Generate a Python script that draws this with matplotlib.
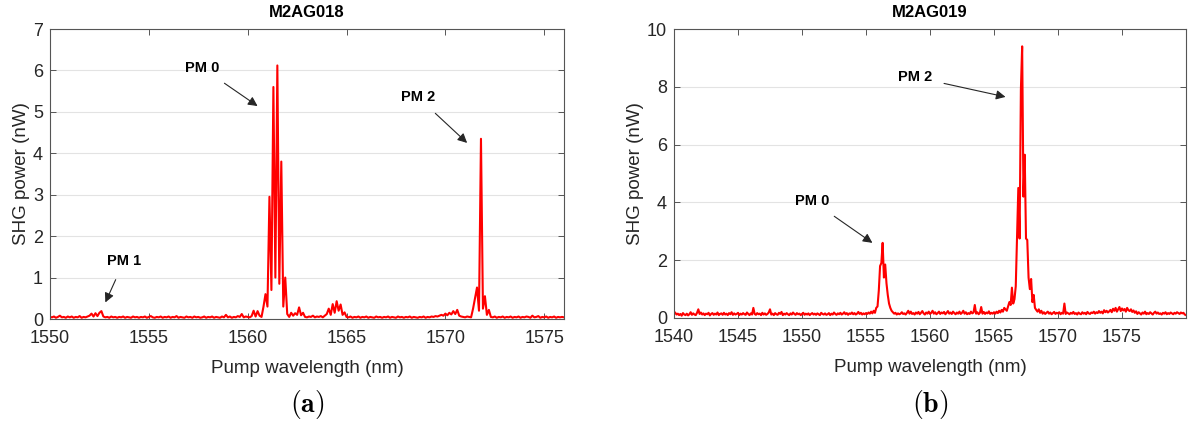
import numpy as np
import matplotlib
matplotlib.use("Agg")
import matplotlib.pyplot as plt

plt.rcParams['font.family'] = ['Liberation Sans', 'DejaVu Sans']
plt.rcParams['mathtext.fontset'] = 'cm'

# ---- M2AG018: SHG power (nW), pump wavelength 1550.0 ... 1576.0 nm, 0.1 nm step
wl_a_start, wl_a_stop = 1550.0, 1576.0
shg_a = [
    0.05, 0.04, 0.06, 0.03, 0.05, 0.08, 0.04, 0.05, 0.03, 0.06,   # 1550
    0.04, 0.06, 0.03, 0.05, 0.04, 0.07, 0.03, 0.05, 0.04, 0.06,   # 1551
    0.08, 0.13, 0.06, 0.14, 0.07, 0.15, 0.19, 0.06, 0.04, 0.05,   # 1552
    0.03, 0.06, 0.04, 0.05, 0.03, 0.05, 0.04, 0.06, 0.03, 0.05,   # 1553
    0.04, 0.03, 0.06, 0.04, 0.05, 0.03, 0.05, 0.04, 0.06, 0.03,   # 1554
    0.05, 0.07, 0.04, 0.03, 0.05, 0.04, 0.06, 0.03, 0.05, 0.04,   # 1555
    0.06, 0.03, 0.05, 0.04, 0.07, 0.03, 0.05, 0.04, 0.03, 0.06,   # 1556
    0.04, 0.05, 0.03, 0.06, 0.04, 0.05, 0.03, 0.04, 0.06, 0.03,   # 1557
    0.05, 0.04, 0.06, 0.03, 0.05, 0.04, 0.03, 0.06, 0.04, 0.10,   # 1558
    0.04, 0.06, 0.03, 0.05, 0.04, 0.07, 0.05, 0.12, 0.04, 0.06,   # 1559
    0.05, 0.04, 0.07, 0.20, 0.06, 0.19, 0.08, 0.05, 0.30, 0.60,   # 1560
    0.30, 2.95, 0.70, 5.60, 1.00, 6.12, 0.85, 3.80, 0.30, 1.00,   # 1561
    0.12, 0.05, 0.15, 0.08, 0.14, 0.10, 0.28, 0.09, 0.15, 0.05,   # 1562
    0.04, 0.06, 0.05, 0.08, 0.04, 0.06, 0.05, 0.07, 0.04, 0.08,   # 1563
    0.12, 0.25, 0.10, 0.36, 0.15, 0.43, 0.20, 0.35, 0.10, 0.16,   # 1564
    0.05, 0.04, 0.06, 0.03, 0.05, 0.04, 0.06, 0.03, 0.05, 0.04,   # 1565
    0.06, 0.03, 0.05, 0.04, 0.03, 0.06, 0.04, 0.05, 0.03, 0.05,   # 1566
    0.04, 0.06, 0.03, 0.05, 0.04, 0.03, 0.06, 0.04, 0.05, 0.03,   # 1567
    0.05, 0.04, 0.06, 0.03, 0.05, 0.04, 0.03, 0.05, 0.04, 0.06,   # 1568
    0.03, 0.05, 0.04, 0.06, 0.05, 0.07, 0.06, 0.08, 0.10, 0.08,   # 1569
    0.13, 0.09, 0.15, 0.11, 0.19, 0.12, 0.22, 0.08, 0.06, 0.05,   # 1570
    0.04, 0.06, 0.05, 0.04, 0.25, 0.50, 0.76, 0.20, 4.35, 0.25,   # 1571
    0.55, 0.10, 0.22, 0.05, 0.04, 0.06, 0.03, 0.05, 0.04, 0.06,   # 1572
    0.03, 0.05, 0.04, 0.06, 0.03, 0.05, 0.04, 0.06, 0.03, 0.05,   # 1573
    0.04, 0.06, 0.05, 0.03, 0.08, 0.04, 0.05, 0.07, 0.03, 0.05,   # 1574
    0.04, 0.06, 0.03, 0.05, 0.04, 0.06, 0.03, 0.05, 0.04, 0.05,   # 1575
    0.04,                                                         # 1576
]

# ---- M2AG019: SHG power (nW), pump wavelength 1540.0 ... 1580.0 nm, 0.1 nm step
wl_b_start, wl_b_stop = 1540.0, 1580.0
shg_b = [
    0.22, 0.18, 0.12, 0.15, 0.10, 0.14, 0.08, 0.17, 0.12, 0.10,   # 1540
    0.15, 0.09, 0.13, 0.20, 0.11, 0.16, 0.12, 0.10, 0.18, 0.30,   # 1541
    0.14, 0.19, 0.12, 0.16, 0.10, 0.15, 0.13, 0.18, 0.09, 0.14,   # 1542
    0.17, 0.11, 0.15, 0.12, 0.19, 0.10, 0.14, 0.16, 0.11, 0.18,   # 1543
    0.12, 0.15, 0.10, 0.17, 0.13, 0.20, 0.11, 0.16, 0.12, 0.14,   # 1544
    0.18, 0.10, 0.15, 0.12, 0.17, 0.13, 0.11, 0.19, 0.14, 0.10,   # 1545
    0.16, 0.12, 0.35, 0.14, 0.11, 0.17, 0.13, 0.15, 0.10, 0.18,   # 1546
    0.12, 0.16, 0.11, 0.14, 0.19, 0.30, 0.12, 0.15, 0.10, 0.17,   # 1547
    0.13, 0.11, 0.18, 0.14, 0.21, 0.10, 0.15, 0.12, 0.17, 0.13,   # 1548
    0.10, 0.16, 0.12, 0.19, 0.14, 0.11, 0.17, 0.13, 0.15, 0.10,   # 1549
    0.14, 0.18, 0.11, 0.15, 0.12, 0.16, 0.10, 0.14, 0.17, 0.12,   # 1550
    0.15, 0.11, 0.16, 0.13, 0.10, 0.18, 0.14, 0.12, 0.16, 0.11,   # 1551
    0.13, 0.17, 0.10, 0.15, 0.12, 0.19, 0.14, 0.11, 0.16, 0.13,   # 1552
    0.18, 0.12, 0.15, 0.20, 0.13, 0.17, 0.11, 0.16, 0.14, 0.19,   # 1553
    0.13, 0.17, 0.12, 0.15, 0.21, 0.14, 0.18, 0.12, 0.16, 0.13,   # 1554
    0.17, 0.14, 0.19, 0.15, 0.22, 0.16, 0.25, 0.18, 0.35, 0.40,   # 1555
    0.95, 1.80, 1.90, 2.60, 1.40, 1.85, 1.20, 0.80, 0.50, 0.35,   # 1556
    0.25, 0.20, 0.15, 0.18, 0.12, 0.16, 0.13, 0.15, 0.20, 0.14,   # 1557
    0.16, 0.12, 0.18, 0.25, 0.15, 0.22, 0.14, 0.17, 0.12, 0.19,   # 1558
    0.15, 0.21, 0.13, 0.18, 0.24, 0.16, 0.12, 0.19, 0.15, 0.22,   # 1559
    0.14, 0.18, 0.25, 0.15, 0.20, 0.13, 0.17, 0.22, 0.14, 0.19,   # 1560
    0.16, 0.21, 0.13, 0.18, 0.24, 0.15, 0.19, 0.14, 0.22, 0.17,   # 1561
    0.13, 0.19, 0.15, 0.22, 0.14, 0.18, 0.25, 0.15, 0.20, 0.13,   # 1562
    0.17, 0.14, 0.22, 0.16, 0.19, 0.45, 0.15, 0.20, 0.13, 0.18,   # 1563
    0.38, 0.15, 0.21, 0.14, 0.19, 0.16, 0.23, 0.14, 0.18, 0.15,   # 1564
    0.20, 0.15, 0.22, 0.17, 0.25, 0.19, 0.28, 0.22, 0.35, 0.30,   # 1565
    0.25, 0.40, 0.55, 0.45, 1.05, 0.50, 0.65, 1.10, 2.80, 4.50,   # 1566
    2.75, 7.90, 9.40, 4.20, 5.65, 2.75, 2.70, 1.40, 1.00, 1.35,   # 1567
    0.55, 0.80, 0.35, 0.28, 0.22, 0.30, 0.18, 0.25, 0.15, 0.20,   # 1568
    0.14, 0.18, 0.22, 0.15, 0.19, 0.13, 0.17, 0.21, 0.14, 0.18,   # 1569
    0.16, 0.20, 0.13, 0.18, 0.15, 0.50, 0.14, 0.19, 0.16, 0.13,   # 1570
    0.18, 0.15, 0.21, 0.14, 0.17, 0.12, 0.19, 0.15, 0.13, 0.20,   # 1571
    0.15, 0.18, 0.13, 0.21, 0.16, 0.14, 0.19, 0.17, 0.22, 0.15,   # 1572
    0.20, 0.17, 0.24, 0.18, 0.22, 0.16, 0.27, 0.20, 0.25, 0.19,   # 1573
    0.23, 0.28, 0.20, 0.32, 0.25, 0.35, 0.22, 0.30, 0.38, 0.24,   # 1574
    0.33, 0.26, 0.31, 0.22, 0.35, 0.27, 0.24, 0.30, 0.21, 0.26,   # 1575
    0.18, 0.23, 0.14, 0.20, 0.16, 0.12, 0.19, 0.15, 0.22, 0.13,   # 1576
    0.17, 0.14, 0.20, 0.16, 0.12, 0.18, 0.22, 0.15, 0.19, 0.14,   # 1577
    0.16, 0.12, 0.18, 0.15, 0.20, 0.13, 0.17, 0.14, 0.19, 0.16,   # 1578
    0.13, 0.18, 0.15, 0.20, 0.17, 0.14, 0.19, 0.16, 0.18, 0.12,   # 1579
    0.10,                                                         # 1580
]

wl_a = np.linspace(wl_a_start, wl_a_stop, len(shg_a))
wl_b = np.linspace(wl_b_start, wl_b_stop, len(shg_b))

titles = ["M2AG018", "M2AG019"]
captions = ["(a)", "(b)"]
xticks_a = [1550, 1555, 1560, 1565, 1570, 1575]
xticks_b = [1540, 1545, 1550, 1555, 1560, 1565, 1570, 1575]
yticks_a = [0, 1, 2, 3, 4, 5, 6, 7]
yticks_b = [0, 2, 4, 6, 8, 10]

# annotation labels: (text, text position, arrow tip)
notes_a = [("PM 0", (1557.7, 6.06), (1560.5, 5.14)),
           ("PM 2", (1568.6, 5.36), (1571.1, 4.25)),
           ("PM 1", (1553.75, 1.40), (1552.8, 0.40))]
notes_b = [("PM 2", (1558.8, 8.34), (1565.9, 7.65)),
           ("PM 0", (1550.8, 4.05), (1555.5, 2.60))]

W, H = 1198, 423
fig = plt.figure(figsize=(W / 100, H / 100), dpi=100)
ax_a = fig.add_axes([50 / W, 1 - 319 / H, 514 / W, 290 / H])
ax_b = fig.add_axes([674 / W, 1 - 318 / H, 512 / W, 289 / H])

tick_col = "#262626"
frame_col = "#555555"


def style(ax, xlim, ylim, xticks, yticks, title, caption):
    ax.set_xlim(*xlim)
    ax.set_ylim(*ylim)
    ax.set_xticks(xticks)
    ax.set_yticks(yticks)
    ax.tick_params(direction="in", length=4, width=0.7, colors=frame_col,
                   labelcolor=tick_col, labelsize=13, top=True, right=True,
                   pad=5)
    ax.tick_params(axis="x", pad=8)
    for s in ax.spines.values():
        s.set_color(frame_col)
        s.set_linewidth(0.8)
    ax.grid(axis="y", color="#e3e3e3", linewidth=0.8)
    ax.set_axisbelow(True)
    ax.set_title(title, fontsize=12, fontweight="bold", color="black", pad=9)
    ax.set_xlabel("Pump wavelength (nm)", fontsize=13.5, color=tick_col, labelpad=9)
    ax.set_ylabel("SHG power (nW)", fontsize=13.5, color=tick_col, labelpad=2)
    pos = ax.get_position()
    fig.text(pos.x0 + pos.width / 2, 1 - 404 / H, r"$\mathbf{%s}$" % caption,
             ha="center", va="center", fontsize=20)


def annotate(ax, notes):
    for text, xytext, xy in notes:
        ax.annotate(text, xy=xy, xytext=xytext, fontsize=10.5, fontweight="bold",
                    color="black", ha="center", va="center",
                    arrowprops=dict(arrowstyle="-|>", color="#262626", lw=0.8,
                                    mutation_scale=14, shrinkA=7, shrinkB=0))


ax_a.plot(wl_a, shg_a, color="#ff0000", lw=1.5)
style(ax_a, (1550, 1576), (0, 7), xticks_a, yticks_a, titles[0], captions[0])
annotate(ax_a, notes_a)

ax_b.plot(wl_b, shg_b, color="#ff0000", lw=1.5)
style(ax_b, (1540, 1580), (0, 10), xticks_b, yticks_b, titles[1], captions[1])
annotate(ax_b, notes_b)

fig.savefig("out.png", dpi=100, facecolor="white")
